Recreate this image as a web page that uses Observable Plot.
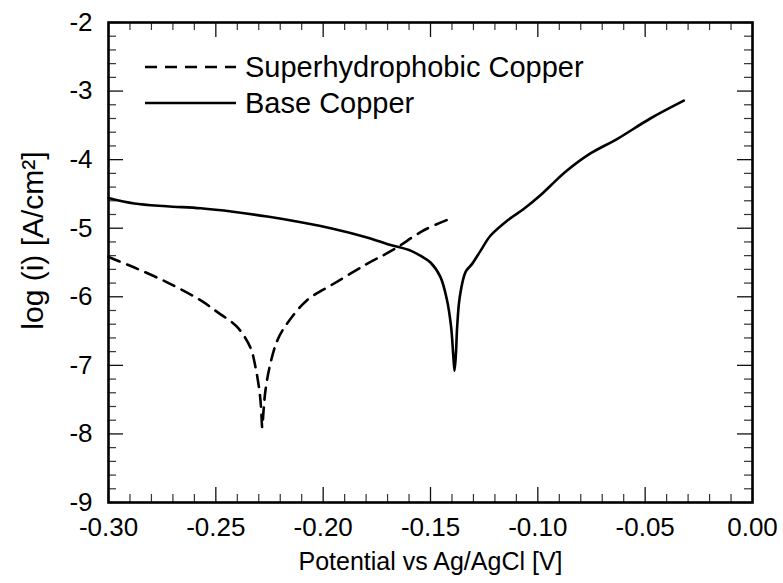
<!DOCTYPE html>
<html>
<head>
<meta charset="utf-8">
<script src="https://cdn.jsdelivr.net/npm/d3@7"></script>
<script src="https://cdn.jsdelivr.net/npm/@observablehq/plot@0.6"></script>
<style>
  html, body { margin: 0; padding: 0; background: #fff; }
  #chart svg { display: block; }
</style>
</head>
<body>
<div id="chart"></div>
<script>
// ---- Data ----
const basePotential = [-0.300, -0.288, -0.273, -0.257, -0.242, -0.226, -0.211, -0.195, -0.180, -0.169,
  -0.159, -0.1547, -0.150, -0.1454, -0.1423, -0.1404, -0.1394, -0.1388, -0.1381, -0.1376, -0.1364,
  -0.1337, -0.1306, -0.1267, -0.1221, -0.1143, -0.1066, -0.0988, -0.0941, -0.0864, -0.0755, -0.0631,
  -0.0476, -0.032];
const baseLogI = [-4.56, -4.64, -4.68, -4.71, -4.76, -4.83, -4.91, -5.01, -5.13, -5.24,
  -5.33, -5.40, -5.50, -5.71, -6.05, -6.44, -6.85, -7.08, -6.80, -6.45, -6.01,
  -5.64, -5.52, -5.33, -5.11, -4.89, -4.72, -4.52, -4.38, -4.16, -3.91, -3.70,
  -3.40, -3.14];

const shPotential = [-0.300, -0.2882, -0.2727, -0.2572, -0.2494, -0.2401, -0.2339, -0.2315, -0.2297,
  -0.2289, -0.2284, -0.2277, -0.2269, -0.2250, -0.2214, -0.2168, -0.2075, -0.1951, -0.1796, -0.1671,
  -0.1531, -0.1407];
const shLogI = [-5.42, -5.57, -5.79, -6.05, -6.22, -6.44, -6.74, -7.03, -7.37,
  -7.63, -7.90, -7.63, -7.37, -7.03, -6.64, -6.39, -6.05, -5.81, -5.52, -5.31,
  -5.03, -4.86];

const seriesNames = ["Superhydrophobic Copper", "Base Copper"];

const xMajorTicks = [-0.30, -0.25, -0.20, -0.15, -0.10, -0.05, 0.00];
const xMinorTicks = [-0.29, -0.28, -0.27, -0.26, -0.24, -0.23, -0.22, -0.21, -0.19, -0.18, -0.17, -0.16,
  -0.14, -0.13, -0.12, -0.11, -0.09, -0.08, -0.07, -0.06, -0.04, -0.03, -0.02, -0.01];
const yMajorTicks = [-9, -8, -7, -6, -5, -4, -3, -2];
const yMinorTicks = [-8.8, -8.6, -8.4, -8.2, -7.8, -7.6, -7.4, -7.2, -6.8, -6.6, -6.4, -6.2,
  -5.8, -5.6, -5.4, -5.2, -4.8, -4.6, -4.4, -4.2, -3.8, -3.6, -3.4, -3.2, -2.8, -2.6, -2.4, -2.2];

const xTitle = "Potential vs Ag/AgCl [V]";
const yTitle = "log (i) [A/cm²]";

// ---- Build tables ----
const baseData = basePotential.map((x, i) => ({x, y: baseLogI[i]}));
const shData = shPotential.map((x, i) => ({x, y: shLogI[i]}));

// ---- Layout ----
const W = 783, H = 583;
const mT = 22, mR = 31, mB = 81, mL = 108;
const plotW = W - mL - mR, plotH = H - mT - mB;
const majorLen = 15, minorLen = 8;
const font = "'Liberation Sans', Arial, Helvetica, sans-serif";
const dash = "12,8";

const svg = Plot.plot({
  width: W, height: H,
  marginTop: mT, marginRight: mR, marginBottom: mB, marginLeft: mL,
  style: {fontFamily: font, background: "#fff", color: "#000"},
  x: {domain: [-0.30, 0.00], axis: null},
  y: {domain: [-9, -2], axis: null},
  marks: [
    // minor & major ticks, inward, on all four sides
    Plot.tickX(xMinorTicks, {x: d => d, insetTop: plotH - minorLen, stroke: "#333", strokeWidth: 1.2}),
    Plot.tickX(xMinorTicks, {x: d => d, insetBottom: plotH - minorLen, stroke: "#333", strokeWidth: 1.2}),
    Plot.tickX(xMajorTicks, {x: d => d, insetTop: plotH - majorLen, stroke: "#111", strokeWidth: 1.3}),
    Plot.tickX(xMajorTicks, {x: d => d, insetBottom: plotH - majorLen, stroke: "#111", strokeWidth: 1.3}),
    Plot.tickY(yMinorTicks, {y: d => d, insetRight: plotW - minorLen, stroke: "#333", strokeWidth: 1.2}),
    Plot.tickY(yMinorTicks, {y: d => d, insetLeft: plotW - minorLen, stroke: "#333", strokeWidth: 1.2}),
    Plot.tickY(yMajorTicks, {y: d => d, insetRight: plotW - majorLen, stroke: "#111", strokeWidth: 1.3}),
    Plot.tickY(yMajorTicks, {y: d => d, insetLeft: plotW - majorLen, stroke: "#111", strokeWidth: 1.3}),
    // tick labels
    Plot.axisX(xMajorTicks, {anchor: "bottom", tickSize: 0, tickPadding: 15, fontSize: 26,
      tickFormat: d => d.toFixed(2), label: null}),
    Plot.axisY(yMajorTicks, {anchor: "left", tickSize: 0, tickPadding: 16, fontSize: 26,
      tickFormat: d => String(d), label: null}),
    // axis titles
    Plot.text([xTitle], {frameAnchor: "bottom", text: d => d, lineAnchor: "bottom", dy: 67, fontSize: 25, fill: "#000"}),
    Plot.text([yTitle], {frameAnchor: "left", text: d => d, textAnchor: "middle", lineAnchor: "middle",
      rotate: -90, dx: -75, dy: -22, fontSize: 30, fill: "#000"}),
    // data
    Plot.line(shData, {x: "x", y: "y", stroke: "#000", strokeWidth: 2.6, strokeDasharray: dash, curve: "catmull-rom"}),
    Plot.line(baseData, {x: "x", y: "y", stroke: "#000", strokeWidth: 2.6, curve: "catmull-rom"}),
    Plot.frame({stroke: "#000", strokeWidth: 2.6})
  ]
});

// ---- In-plot legend ----
const g = d3.select(svg).append("g").attr("class", "legend");
const legendRows = [
  {name: seriesNames[0], dash: dash, y: 67},
  {name: seriesNames[1], dash: null, y: 103}
];
for (const r of legendRows) {
  g.append("line").attr("x1", 145).attr("x2", 236).attr("y1", r.y).attr("y2", r.y)
    .attr("stroke", "#000").attr("stroke-width", 2.6)
    .attr("stroke-dasharray", r.dash);
  g.append("text").attr("x", 245).attr("y", r.y).attr("dy", "0.35em")
    .style("font-family", font).style("font-size", "29px").style("text-anchor", "start")
    .attr("fill", "#000").text(r.name);
}

document.getElementById("chart").appendChild(svg);
</script>
</body>
</html>
